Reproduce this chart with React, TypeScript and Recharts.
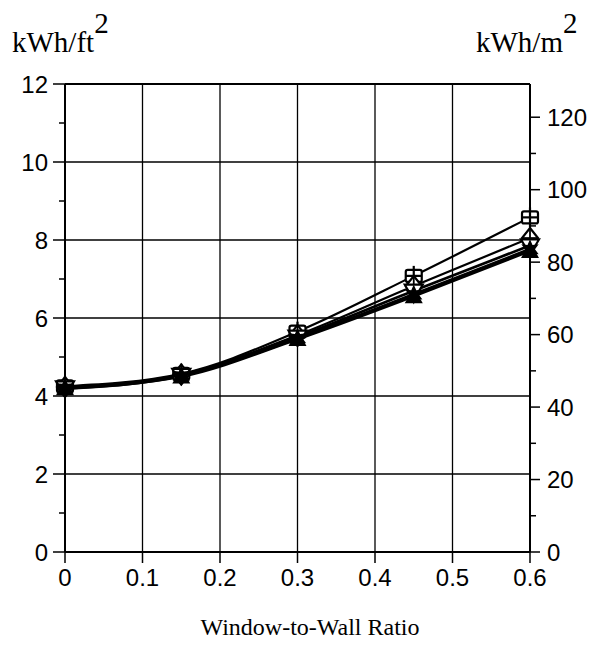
import { Line, LineChart, ReferenceLine, XAxis, YAxis } from 'recharts';

// window-to-wall ratio at which each case was run
const WWR = [0, 0.15, 0.3, 0.45, 0.6];

// annual energy use, kWh/ft2
const SERIES_SQUARE = [4.25, 4.57, 5.65, 7.08, 8.58];
const SERIES_DIAMOND = [4.23, 4.55, 5.56, 6.82, 8.05];
const SERIES_TRI_DOWN = [4.22, 4.54, 5.52, 6.7, 7.86];
const SERIES_STAR = [4.2, 4.52, 5.48, 6.6, 7.76];
const SERIES_TRI_UP = [4.2, 4.5, 5.46, 6.56, 7.72];

const X_TICKS = [0, 0.1, 0.2, 0.3, 0.4, 0.5, 0.6];
const X_GRID = [0.1, 0.2, 0.3, 0.4, 0.5];
const LEFT_TICKS = [0, 1, 2, 3, 4, 5, 6, 7, 8, 9, 10, 11, 12];
const LEFT_GRID = [2, 4, 6, 8, 10];
const RIGHT_TICKS = [0, 10, 20, 30, 40, 50, 60, 70, 80, 90, 100, 110, 120];

const FT2_TO_M2 = 10.764;
const Y_MAX = 12;

const data = WWR.map((x, i) => ({
  x,
  square: SERIES_SQUARE[i],
  diamond: SERIES_DIAMOND[i],
  triDown: SERIES_TRI_DOWN[i],
  star: SERIES_STAR[i],
  triUp: SERIES_TRI_UP[i],
  // same values in metric, only to drive the right-hand axis
  squareM2: SERIES_SQUARE[i] * FT2_TO_M2
}));

const TICK_FONT = { fontFamily: 'Liberation Sans, Arial, sans-serif', fontSize: 24, fill: '#000' };

function LeftTick(props: any) {
  const { x, y, payload } = props;
  const axisX = x + 17;
  const major = payload.value % 2 === 0;
  return (
    <g>
      <line x1={axisX - (major ? 12 : 6)} x2={axisX} y1={y} y2={y} stroke="#000" strokeWidth={1.5} />
      {major && (
        <text x={x} y={y} dy="0.355em" textAnchor="end" {...TICK_FONT}>
          {payload.value}
        </text>
      )}
    </g>
  );
}

function RightTick(props: any) {
  const { x, y, payload } = props;
  const axisX = x - 17;
  const major = payload.value % 20 === 0;
  return (
    <g>
      <line x1={axisX} x2={axisX + (major ? 10 : 6)} y1={y} y2={y} stroke="#000" strokeWidth={1.5} />
      {major && (
        <text x={x} y={y} dy="0.355em" textAnchor="start" {...TICK_FONT}>
          {payload.value}
        </text>
      )}
    </g>
  );
}

function BottomTick(props: any) {
  const { x, y, payload } = props;
  const axisY = y - 17;
  return (
    <g>
      <line x1={x} x2={x} y1={axisY} y2={axisY + 11} stroke="#000" strokeWidth={1.5} />
      <text x={x} y={y} dy="0.71em" textAnchor="middle" {...TICK_FONT}>
        {payload.value}
      </text>
    </g>
  );
}

type Shape = 'square' | 'diamond' | 'triDown' | 'star' | 'triUp';

function Marker({ cx, cy, shape }: { cx: number; cy: number; shape: Shape }) {
  if (cx == null || cy == null) return null;
  if (shape === 'square') {
    return (
      <g>
        <rect x={cx - 8} y={cy - 6} width={16} height={12} rx={2} fill="#fff" stroke="#000" strokeWidth={2.2} />
        <line x1={cx} x2={cx} y1={cy - 10} y2={cy + 10} stroke="#000" strokeWidth={2.2} />
        <line x1={cx - 8} x2={cx + 8} y1={cy} y2={cy} stroke="#000" strokeWidth={2.2} />
      </g>
    );
  }
  if (shape === 'diamond') {
    return (
      <g>
        <path d={`M${cx},${cy - 10} L${cx + 8},${cy} L${cx},${cy + 10} L${cx - 8},${cy} Z`} fill="#fff" stroke="#000" strokeWidth={2.2} />
        <line x1={cx} x2={cx} y1={cy - 10} y2={cy + 10} stroke="#000" strokeWidth={1.8} />
        <line x1={cx - 8} x2={cx + 8} y1={cy} y2={cy} stroke="#000" strokeWidth={1.8} />
      </g>
    );
  }
  if (shape === 'triDown') {
    return (
      <path d={`M${cx - 9},${cy - 6} L${cx + 9},${cy - 6} L${cx},${cy + 9} Z`} fill="#fff" stroke="#000" strokeWidth={2.2} />
    );
  }
  if (shape === 'triUp') {
    return <path d={`M${cx - 9},${cy + 7} L${cx + 9},${cy + 7} L${cx},${cy - 9} Z`} fill="#000" />;
  }
  // six-point star
  const pts: string[] = [];
  for (let k = 0; k < 12; k++) {
    const r = k % 2 === 0 ? 10 : 5;
    const a = (Math.PI / 6) * k - Math.PI / 2;
    pts.push(`${cx + r * Math.cos(a)},${cy + r * Math.sin(a)}`);
  }
  return <polygon points={pts.join(' ')} fill="#000" />;
}

const SERIES: { key: Shape; width: number }[] = [
  { key: 'square', width: 2.2 },
  { key: 'diamond', width: 2.2 },
  { key: 'triDown', width: 2.6 },
  { key: 'star', width: 3.2 },
  { key: 'triUp', width: 2.8 }
];

export default function App() {
  return (
    <div style={{ position: 'absolute', left: 0, top: 0, width: 599, height: 660, background: '#fff' }}>
      <LineChart width={599} height={660} data={data} margin={{ top: 84, right: 9, left: 10, bottom: 68 }}>
        <XAxis
          dataKey="x"
          type="number"
          domain={[0, 0.6]}
          ticks={X_TICKS}
          interval={0}
          height={40}
          tickSize={11}
          tickMargin={6}
          tickLine={false}
          tick={<BottomTick />}
          axisLine={{ stroke: '#000', strokeWidth: 2 }}
        />
        <YAxis
          yAxisId="left"
          orientation="left"
          type="number"
          domain={[0, Y_MAX]}
          ticks={LEFT_TICKS}
          interval={0}
          width={55}
          tickSize={12}
          tickMargin={5}
          tickLine={false}
          tick={<LeftTick />}
          axisLine={{ stroke: '#000', strokeWidth: 2 }}
        />
        <YAxis
          yAxisId="right"
          orientation="right"
          type="number"
          domain={[0, Y_MAX * FT2_TO_M2]}
          allowDataOverflow
          ticks={RIGHT_TICKS}
          interval={0}
          width={60}
          tickSize={10}
          tickMargin={7}
          tickLine={false}
          tick={<RightTick />}
          axisLine={{ stroke: '#000', strokeWidth: 2 }}
        />
        {X_GRID.map((v) => (
          <ReferenceLine key={`vx-${v}`} x={v} yAxisId="left" stroke="#000" strokeWidth={1.3} />
        ))}
        {LEFT_GRID.map((v) => (
          <ReferenceLine key={`hy-${v}`} y={v} yAxisId="left" stroke="#000" strokeWidth={1.3} />
        ))}
        <ReferenceLine y={Y_MAX} yAxisId="left" stroke="#000" strokeWidth={2} />
        <Line
          yAxisId="right"
          dataKey="squareM2"
          stroke="none"
          dot={false}
          activeDot={false}
          legendType="none"
          isAnimationActive={false}
        />
        {SERIES.map((s) => (
          <Line
            key={s.key}
            yAxisId="left"
            dataKey={s.key}
            type="monotone"
            stroke="#000"
            strokeWidth={s.width}
            isAnimationActive={false}
            dot={(p: any) => <Marker key={`${s.key}-${p.index}`} cx={p.cx} cy={p.cy} shape={s.key} />}
          />
        ))}
      </LineChart>
      <svg width={599} height={660} style={{ position: 'absolute', left: 0, top: 0, pointerEvents: 'none' }}>
        <text x={12} y={52} fontFamily="Liberation Serif, Times New Roman, serif" fontSize={29} fill="#000">
          kWh/ft
          <tspan dy={-19}>2</tspan>
        </text>
        <text x={476} y={52} fontFamily="Liberation Serif, Times New Roman, serif" fontSize={29} fill="#000">
          kWh/m
          <tspan dy={-19}>2</tspan>
        </text>
        <text x={310} y={635} textAnchor="middle" fontFamily="Liberation Serif, Times New Roman, serif" fontSize={24} fill="#000">
          Window-to-Wall Ratio
        </text>
      </svg>
    </div>
  );
}
